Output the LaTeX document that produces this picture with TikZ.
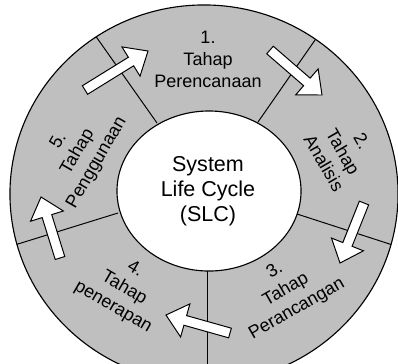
\documentclass[tikz,border=0pt]{standalone}
\usepackage{fontspec}
\setmainfont{Liberation Sans}
\usetikzlibrary{calc}

\tikzset{
  ringfill/.style={fill=black!25},
  ringedge/.style={draw=black, line width=0.8pt},
  divider/.style={draw=black, line width=0.7pt},
  hubdisc/.style={fill=white, draw=black, line width=0.8pt},
  blockarrow/.style={draw=black, fill=white, line width=0.7pt, line join=miter},
  seglabel/.style={align=center, inner sep=0pt,
    font=\fontsize{12.8}{15.6}\selectfont},
  hublabel/.style={align=center, inner sep=0pt,
    font=\fontsize{15.3}{17.8}\selectfont},
}

% Block arrow from a tail coordinate to a tip coordinate
\newcommand\cyclearrow[2]{%
  \coordinate (#1n) at ($(#2)!0.5cm!(#1)$);
  \draw[blockarrow]
    ($(#1)!0.125cm!90:(#2)$) -- ($(#1n)!0.125cm!90:(#2)$)
    -- ($(#1n)!0.43cm!90:(#2)$) -- (#2)
    -- ($(#1n)!0.43cm!-90:(#2)$) -- ($(#1n)!0.125cm!-90:(#2)$)
    -- ($(#1)!0.125cm!-90:(#2)$) -- cycle;
}

\begin{document}
\begin{tikzpicture}[x=0.025cm, y=-0.025cm]
  \useasboundingbox (0,0) rectangle (398,363);
  \clip (0,0) rectangle (398,363);
  \fill[white] (0,0) rectangle (398,363);

  % ring centre and hub centre
  \coordinate (ringc) at (204,194);
  \coordinate (hubc) at (209,191);

  % grey ring
  \fill[ringfill] (ringc) ellipse [x radius=4.85cm, y radius=4.725cm];

  % dividers between the five stages
  \begin{scope}
    \clip (ringc) ellipse [x radius=4.85cm, y radius=4.725cm];
    \coordinate (d1i) at (157,123); \coordinate (d1o) at (90,28);
    \coordinate (d2i) at (258,122); \coordinate (d2o) at (322,30);
    \coordinate (d3i) at (297,214); \coordinate (d3o) at (405,249);
    \coordinate (d4i) at (207,271); \coordinate (d4o) at (207,400);
    \coordinate (d5i) at (118,213); \coordinate (d5o) at (5,248);
    \draw[divider] (d1i) -- (d1o);
    \draw[divider] (d2i) -- (d2o);
    \draw[divider] (d3i) -- (d3o);
    \draw[divider] (d4i) -- (d4o);
    \draw[divider] (d5i) -- (d5o);
  \end{scope}
  \draw[ringedge] (ringc) ellipse [x radius=4.85cm, y radius=4.725cm];

  % hub
  \draw[hubdisc] (hubc) ellipse [x radius=2.3cm, y radius=2.0cm];
  \node[hublabel] (hub) at (208,191) {System\\Life Cycle\\(SLC)};

  % arrows across the dividers
  \coordinate (a1tail) at (85,90);   \coordinate (a1tip) at (148,51);
  \coordinate (a2tail) at (270,50);  \coordinate (a2tip) at (322,95);
  \coordinate (a3tail) at (364,203); \coordinate (a3tip) at (340,263);
  \coordinate (a4tail) at (230,333); \coordinate (a4tip) at (166,315);
  \coordinate (a5tail) at (60,258);  \coordinate (a5tip) at (41,197);
  \cyclearrow{a1tail}{a1tip}
  \cyclearrow{a2tail}{a2tip}
  \cyclearrow{a3tail}{a3tip}
  \cyclearrow{a4tail}{a4tip}
  \cyclearrow{a5tail}{a5tip}

  % stage labels
  \node[seglabel] (lab1) at (208,59) {1.\\Tahap\\Perencanaan};
  \node[seglabel, rotate=-60] (lab2) at (343,152) {2.\\Tahap\\Analisis};
  \node[seglabel, rotate=30] (lab3) at (286,290) {3.\\Tahap\\Perancangan};
  \node[seglabel, rotate=-30] (lab4) at (124,288) {4.\\Tahap\\penerapan};
  \node[seglabel, rotate=60] (lab5) at (78,152) {5.\\Tahap\\Penggunaan};
\end{tikzpicture}
\end{document}
